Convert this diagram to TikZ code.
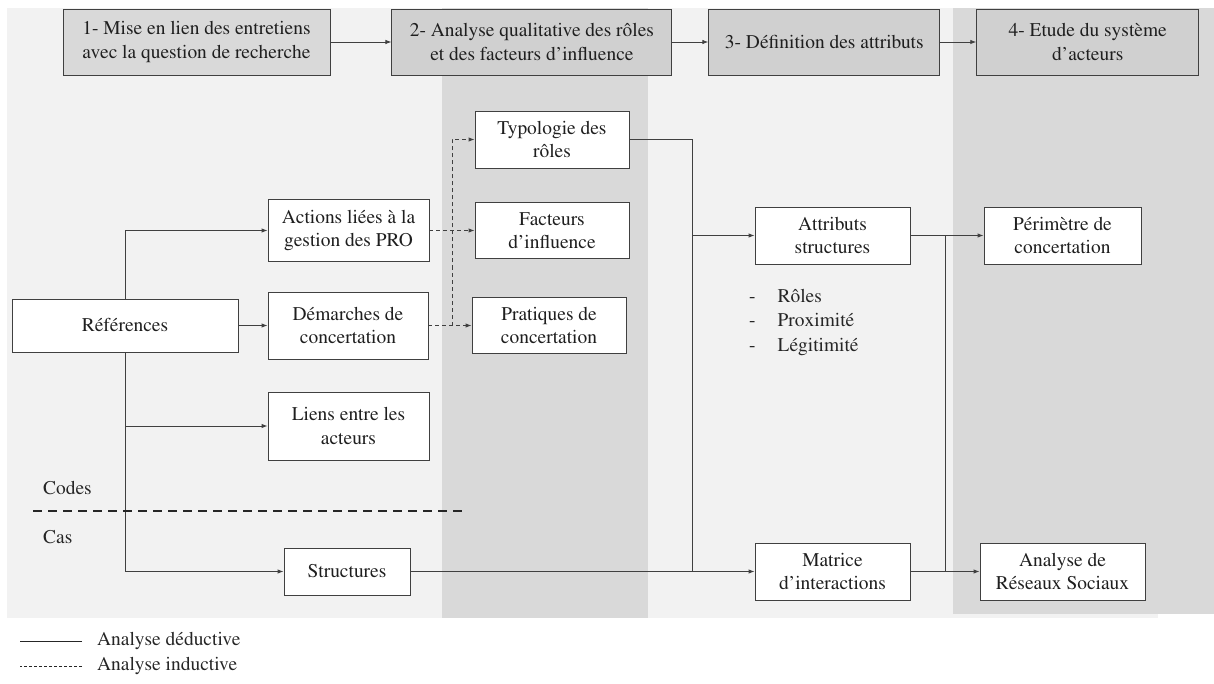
\documentclass[tikz,border=0pt]{standalone}
\usepackage[T1]{fontenc}
\renewcommand{\rmdefault}{ptm}
\usetikzlibrary{arrows.meta,positioning}
\definecolor{bglight}{HTML}{F2F2F2}
\definecolor{colgray}{HTML}{D9D9D9}
\definecolor{hdrgray}{HTML}{D0D0D0}
\definecolor{inkgray}{HTML}{404040}

\begin{document}
\begin{tikzpicture}[
    x=1bp, y=-1bp,
    >={Latex[length=6bp,width=4.5bp]},
    font=\fontsize{19.5}{23.5}\selectfont,
    box/.style={draw=inkgray,line width=0.9bp,fill=white,align=center,inner sep=0pt,text=black!88},
    hdr/.style={box,fill=hdrgray,minimum height=66bp},
    link/.style={draw=inkgray,line width=0.9bp},
    induct/.style={link,dash pattern=on 4bp off 3bp},
    label/.style={anchor=west,inner sep=0pt,text=black!85}
  ]
    \useasboundingbox (0,0) rectangle (1214,684);
    \fill[bglight] (7,8) rectangle (1158,618);
    \fill[colgray] (442,8) rectangle (648,618);
    \fill[colgray] (953,8) rectangle (1214,614);

    \node[hdr,fill=hdrgray!80,minimum width=267bp] (h1) at (196.5,42) {1- Mise en lien des entretiens\\avec la question de recherche};
    \node[hdr,minimum width=280bp] (h2) [right=61bp of h1] {2- Analyse qualitative des rôles\\et des facteurs d'influence};
    \node[hdr,minimum width=231bp] (h3) [right=36bp of h2] {3- Définition des attributs};
    \node[hdr,minimum width=222bp] (h4) [right=36bp of h3] {4- Etude du système\\d'acteurs};

    \node[box,minimum width=226bp,minimum height=53bp] (refs) at (125,325.5) {Références};
    \node[box,minimum width=161bp,minimum height=62bp] (actions) at (348.5,230.5) {Actions liées à la\\gestion des PRO};
    \node[box,minimum width=160bp,minimum height=67bp] (demarches) at (348,325.5) {Démarches de\\concertation};
    \node[box,minimum width=161bp,minimum height=68bp] (liens) at (348.5,426) {Liens entre les\\acteurs};
    \node[box,minimum width=126bp,minimum height=47bp] (structures) at (347,571.5) {Structures};
    \node[box,minimum width=154bp,minimum height=57bp] (typo) at (552,139.5) {Typologie des\\rôles};
    \node[box,minimum width=154bp,minimum height=56bp] (facteurs) at (552,230.5) {Facteurs\\d'influence};
    \node[box,minimum width=154bp,minimum height=56bp] (pratiques) at (549,325.5) {Pratiques de\\concertation};
    \node[box,minimum width=155bp,minimum height=57bp] (attributs) at (832.5,235.5) {Attributs\\structures};
    \node[box,minimum width=155bp,minimum height=57bp] (matrice) at (832.5,571.5) {Matrice\\d'interactions};
    \node[box,minimum width=157bp,minimum height=57bp] (perimetre) at (1062.5,235.5) {Périmètre de\\concertation};
    \node[box,minimum width=165bp,minimum height=57bp] (reseaux) at (1062.5,571.5) {Analyse de\\Réseaux Sociaux};

    \node[label,font=\fontsize{19.5}{24.5}\selectfont] (attrs) at (749,322)
      {\begin{tabular}{@{}l@{\hspace{22bp}}l@{}}-&Rôles\\-&Proximité\\-&Légitimité\end{tabular}};

    \coordinate (dj) at (452,325.5);
    \coordinate (aj) at (692,235.5);
    \coordinate (mj) at (692,571.5);
    \coordinate (pj) at (945,235.5);
    \coordinate (rj) at (945,571.5);

    \path (h1) edge[link,->] (h2)
          (h2) edge[link,->] (h3)
          (h3) edge[link,->] (h4);

    \draw[link,->] (refs.north) |- (actions.west);
    \draw[link,->] (refs) -- (demarches);
    \draw[link,->] (refs.south) |- (liens.west);
    \draw[link,->] (refs.south) |- (structures.west);

    \draw[induct,->] (actions) -- (facteurs);
    \draw[induct,->] (demarches) -- (pratiques);
    \draw[induct,->] (dj) |- (typo.west);

    \draw[link] (typo.east) -| (mj);
    \draw[link,->] (aj) -- (attributs);
    \draw[link,->] (structures) -- (matrice);
    \draw[link] (pj) -- (rj);
    \draw[link,->] (attributs) -- (perimetre);
    \draw[link,->] (matrice) -- (reseaux);

    \node[label] (codes) at (43,488) {Codes};
    \node[label] (cas) at (43,537) {Cas};
    \coordinate (cutl) at (33,511);
    \coordinate (cutr) at (462,511);
    \draw[black!85,line width=2bp,dash pattern=on 9bp off 6bp] (cutl) -- (cutr);

    \node[label] (ded) at (97,641) {Analyse déductive};
    \node[label] (ind) at (97,666) {Analyse inductive};
    \draw[black!85,line width=0.8bp] ([xshift=-15bp]ded.west) -- ++(-62,0);
    \draw[black!85,line width=0.8bp,dash pattern=on 3bp off 2bp] ([xshift=-15bp]ind.west) -- ++(-62,0);
  \end{tikzpicture}
\end{document}
